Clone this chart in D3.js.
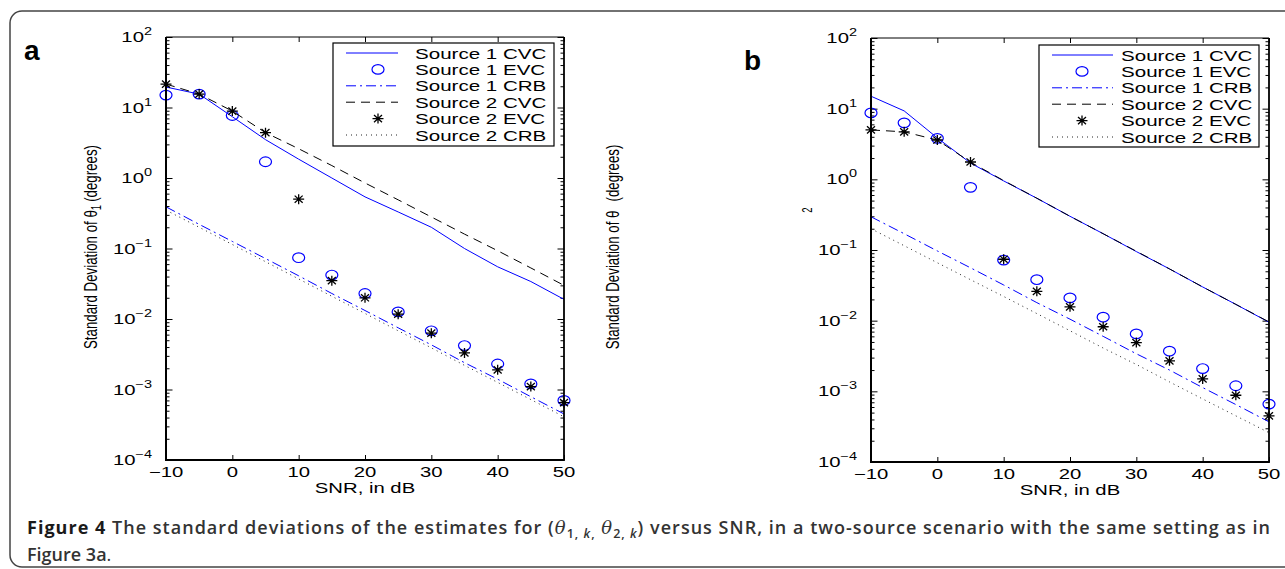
<!DOCTYPE html>
<html>
<head>
<meta charset="utf-8">
<script src="https://cdn.jsdelivr.net/npm/d3@7"></script>
<style>
  body { margin: 0; background: #fff; }
  svg { display: block; }
</style>
</head>
<body>
<svg id="fig" width="1285" height="569"></svg>
<script>
// SNR grid (dB)
const snr = [-10, -5, 0, 5, 10, 15, 20, 25, 30, 35, 40, 45, 50];

// panel a : std of theta_1
const a_s1_cvc = [19.5, 15.5, 7.4, 3.5, 1.85, 1.0, 0.54, 0.33, 0.2, 0.1, 0.055, 0.034, 0.019];
const a_s1_evc = [15, 15.5, 7.7, 1.7, 0.074, 0.042, 0.023, 0.0126, 0.0068, 0.0042, 0.0023, 0.0012, 0.0007];
const a_s1_crb = [0.39, 0.22, 0.126, 0.072, 0.041, 0.023, 0.0132, 0.0075, 0.0043, 0.0024, 0.0014, 0.00079, 0.00045];
const a_s2_cvc = [21.5, 15.5, 8.9, 4.4, 2.6, 1.5, 0.85, 0.49, 0.28, 0.16, 0.093, 0.053, 0.030];
const a_s2_evc = [21.5, 15.5, 8.9, 4.4, 0.5, 0.035, 0.020, 0.0117, 0.0063, 0.0033, 0.0019, 0.0011, 0.00065];
const a_s2_crb = [0.35, 0.2, 0.114, 0.065, 0.037, 0.021, 0.012, 0.0068, 0.0039, 0.0022, 0.00126, 0.00072, 0.00041];

// panel b : std of theta_2
const b_s1_cvc = [15, 9.3, 3.85, 1.7, 0.95, 0.54, 0.30, 0.17, 0.095, 0.054, 0.030, 0.017, 0.0095];
const b_s1_evc = [8.7, 6.3, 3.8, 0.77, 0.072, 0.038, 0.021, 0.0112, 0.0065, 0.0037, 0.0021, 0.0012, 0.00066];
const b_s1_crb = [0.295, 0.17, 0.097, 0.056, 0.032, 0.018, 0.0105, 0.006, 0.0034, 0.002, 0.00113, 0.00065, 0.00037];
const b_s2_cvc = [5.0, 4.7, 3.6, 1.75, 0.96, 0.54, 0.30, 0.17, 0.096, 0.054, 0.030, 0.017, 0.0096];
const b_s2_evc = [5.0, 4.7, 3.6, 1.76, 0.074, 0.026, 0.0157, 0.0082, 0.0049, 0.0027, 0.0015, 0.00088, 0.00045];
const b_s2_crb = [0.20, 0.115, 0.066, 0.038, 0.022, 0.0126, 0.0072, 0.0041, 0.0024, 0.00136, 0.00078, 0.00045, 0.00026];

const legendLabels = ["Source 1 CVC", "Source 1 EVC", "Source 1 CRB", "Source 2 CVC", "Source 2 EVC", "Source 2 CRB"];
const xTicks = [-10, 0, 10, 20, 30, 40, 50];
const yExponents = [-4, -3, -2, -1, 0, 1, 2];

const FONT = "'Liberation Sans', Arial, Helvetica, sans-serif";
const SX = 1.45; // the matlab export is stretched sideways

// how each series is drawn (same order as the legend)
const looks = [
  { type: "line", color: "#0000ff", dash: null },
  { type: "circle", color: "#0000ff" },
  { type: "line", color: "#0000ff", dash: "10,4,2,4" },
  { type: "line", color: "#000", dash: "9,6" },
  { type: "star", color: "#000" },
  { type: "line", color: "#222", dash: "1,4" }
];

const svg = d3.select("#fig");

// outer frame
svg.append("rect")
  .attr("x", 10).attr("y", 11).attr("width", 1300).attr("height", 556)
  .attr("rx", 12)
  .attr("fill", "none").attr("stroke", "#444").attr("stroke-width", 1.5);

function wideText(g, x, y, size, sx, anchor) {
  return g.append("text")
    .attr("transform", `translate(${x},${y}) scale(${sx},1)`)
    .attr("font-family", FONT)
    .attr("font-size", size)
    .attr("text-anchor", anchor)
    .attr("fill", "#000");
}

function drawStar(g, cx, cy) {
  g.append("path")
    .attr("d", `M${cx - 5.5},${cy}H${cx + 5.5}M${cx},${cy - 5}V${cy + 5}` +
      `M${cx - 4},${cy - 3.6}L${cx + 4},${cy + 3.6}M${cx - 4},${cy + 3.6}L${cx + 4},${cy - 3.6}`)
    .attr("stroke", "#000").attr("stroke-width", 1.3).attr("fill", "none");
}

function drawCircle(g, cx, cy) {
  g.append("ellipse")
    .attr("cx", cx).attr("cy", cy).attr("rx", 6).attr("ry", 4.8)
    .attr("fill", "none").attr("stroke", "#0000ff").attr("stroke-width", 1.2);
}

function drawPanel(p) {
  const g = svg.append("g");
  const x = d3.scaleLinear().domain([-10, 50]).range([p.left, p.right]);
  const y = d3.scaleLog().domain([1e-4, 1e2]).range([p.bottom, p.top]);

  // minor ticks (2..9 per decade)
  const minors = [];
  for (let e = -4; e < 2; e++) for (let m = 2; m <= 9; m++) minors.push(m * Math.pow(10, e));
  const majors = yExponents.map(e => Math.pow(10, e));

  const tickStyle = sel => {
    sel.select(".domain").remove();
    sel.selectAll("line").attr("stroke", "#000").attr("stroke-width", 1);
    sel.selectAll("text").remove();
  };

  g.append("g").attr("transform", `translate(${p.left},0)`)
    .call(d3.axisLeft(y).tickValues(minors).tickSize(-3.5)).call(tickStyle);
  g.append("g").attr("transform", `translate(${p.right},0)`)
    .call(d3.axisRight(y).tickValues(minors).tickSize(-3.5)).call(tickStyle);
  g.append("g").attr("transform", `translate(${p.left},0)`)
    .call(d3.axisLeft(y).tickValues(majors).tickSize(-6.5)).call(tickStyle);
  g.append("g").attr("transform", `translate(${p.right},0)`)
    .call(d3.axisRight(y).tickValues(majors).tickSize(-6.5)).call(tickStyle);
  g.append("g").attr("transform", `translate(0,${p.bottom})`)
    .call(d3.axisBottom(x).tickValues(xTicks).tickSize(-5)).call(tickStyle);
  g.append("g").attr("transform", `translate(0,${p.top})`)
    .call(d3.axisTop(x).tickValues(xTicks).tickSize(-5)).call(tickStyle);

  // y tick labels 10^k
  yExponents.forEach(e => {
    const t = wideText(g, p.left - 14, y(Math.pow(10, e)) + 5, 14, SX, "end");
    t.append("tspan").text("10");
    t.append("tspan").attr("dy", -7).attr("font-size", 10)
      .text(e < 0 ? "\u2212" + (-e) : String(e));
  });

  // x tick labels
  xTicks.forEach(v => {
    wideText(g, x(v), p.bottom + 17, 14, SX, "middle")
      .text(v < 0 ? "\u2212" + (-v) : String(v));
  });

  // x label
  wideText(g, (p.left + p.right) / 2, p.bottom + 33, 14, SX, "middle").text("SNR, in dB");

  // series
  const line = d3.line().x((d, i) => x(snr[i])).y(d => y(d));
  p.series.forEach((vals, k) => {
    const look = looks[k];
    if (look.type === "line") {
      g.append("path").datum(vals)
        .attr("d", line)
        .attr("fill", "none")
        .attr("stroke", look.color)
        .attr("stroke-width", 1)
        .attr("stroke-dasharray", look.dash);
    } else {
      vals.forEach((v, i) => {
        if (look.type === "circle") drawCircle(g, x(snr[i]), y(v));
        else drawStar(g, x(snr[i]), y(v));
      });
    }
  });

  // box
  g.append("line").attr("x1", p.left).attr("x2", p.right).attr("y1", p.top).attr("y2", p.top)
    .attr("stroke", "#000").attr("stroke-width", 1);
  g.append("line").attr("x1", p.left).attr("x2", p.right).attr("y1", p.bottom).attr("y2", p.bottom)
    .attr("stroke", "#000").attr("stroke-width", 2);
  g.append("line").attr("x1", p.left).attr("x2", p.left).attr("y1", p.top).attr("y2", p.bottom + 1)
    .attr("stroke", "#000").attr("stroke-width", 2);
  g.append("line").attr("x1", p.right).attr("x2", p.right).attr("y1", p.top).attr("y2", p.bottom + 1)
    .attr("stroke", "#000").attr("stroke-width", 1.8);

  // legend
  const L = p.legend;
  g.append("rect").attr("x", L.x).attr("y", L.y).attr("width", L.w).attr("height", L.h)
    .attr("fill", "#fff").attr("stroke", "#000").attr("stroke-width", 1.2);
  legendLabels.forEach((name, k) => {
    const cy = L.y + 10 + k * 16.4;
    const look = looks[k];
    if (look.type === "line") {
      g.append("line").attr("x1", L.x + 13).attr("x2", L.x + L.lineEnd).attr("y1", cy).attr("y2", cy)
        .attr("stroke", look.color).attr("stroke-width", 1).attr("stroke-dasharray", look.dash);
    } else if (look.type === "circle") {
      drawCircle(g, L.x + L.marker, cy);
    } else {
      drawStar(g, L.x + L.marker, cy);
    }
    wideText(g, L.x + 82, cy + 5.5, 15, 1.37, "start").text(name);
  });

  // panel letter
  g.append("text").attr("x", p.letterX).attr("y", p.letterY)
    .attr("font-family", FONT).attr("font-weight", "bold").attr("font-size", 28)
    .text(p.letter);

  return g;
}

const ga = drawPanel({
  left: 166, right: 564, top: 37, bottom: 460,
  series: [a_s1_cvc, a_s1_evc, a_s1_crb, a_s2_cvc, a_s2_evc, a_s2_crb],
  legend: { x: 333, y: 43, w: 221, h: 103, lineEnd: 65, marker: 45 },
  letter: "a", letterX: 24, letterY: 60
});
const gb = drawPanel({
  left: 871, right: 1269, top: 38, bottom: 462,
  series: [b_s1_cvc, b_s1_evc, b_s1_crb, b_s2_cvc, b_s2_evc, b_s2_crb],
  legend: { x: 1039, y: 45, w: 220, h: 102, lineEnd: 74, marker: 43 },
  letter: "b", letterX: 744, letterY: 70
});

// y labels (rotated, glyphs widened like the export)
const ya = ga.append("text")
  .attr("transform", `translate(97,247) scale(${SX},1) rotate(-90)`)
  .attr("font-family", FONT).attr("font-size", 13.3).attr("text-anchor", "middle");
ya.append("tspan").text("Standard Deviation of \u03b8");
ya.append("tspan").attr("font-size", 9.5).attr("dy", 3).text("1");
ya.append("tspan").attr("dy", -3).attr("dx", 3).text("(degrees)");

const yb = gb.append("text")
  .attr("transform", `translate(619,247) scale(${SX},1) rotate(-90)`)
  .attr("font-family", FONT).attr("font-size", 13.3).attr("text-anchor", "middle");
yb.append("tspan").text("Standard Deviation of \u03b8");
yb.append("tspan").attr("dx", 9).text("(degrees)");

gb.append("text")
  .attr("transform", `translate(812,210) scale(${SX},1) rotate(-90)`)
  .attr("font-family", FONT).attr("font-size", 9.5).attr("text-anchor", "middle")
  .text("2");

// caption
const CAP = "'Open Sans', 'Noto Sans', sans-serif";
const cap = svg.append("text")
  .attr("x", 27).attr("y", 534)
  .attr("font-family", CAP).attr("font-size", 18)
  .attr("textLength", 1243).attr("lengthAdjust", "spacing")
  .attr("fill", "#333").attr("font-weight", 600);
cap.append("tspan").attr("font-weight", 700).attr("fill", "#1a1a1a").text("Figure 4");
cap.append("tspan").text(" The standard deviations of the estimates for (");
cap.append("tspan").attr("font-style", "italic").attr("font-family", "'DejaVu Serif', serif").attr("font-weight", 400).text("\u03b8");
cap.append("tspan").attr("font-size", 12.5).attr("dy", 4).text("1, ");
cap.append("tspan").attr("font-size", 12.5).attr("font-style", "italic").text("k");
cap.append("tspan").attr("font-size", 12.5).text(",");
cap.append("tspan").attr("dy", -4).text(" ");
cap.append("tspan").attr("font-style", "italic").attr("font-family", "'DejaVu Serif', serif").attr("font-weight", 400).text("\u03b8");
cap.append("tspan").attr("font-size", 12.5).attr("dy", 4).text("2, ");
cap.append("tspan").attr("font-size", 12.5).attr("font-style", "italic").text("k");
cap.append("tspan").attr("dy", -4).text(") versus SNR, in a two-source scenario with the same setting as in");

const cap2 = svg.append("text")
  .attr("x", 27).attr("y", 561)
  .attr("font-family", CAP).attr("font-size", 18).attr("fill", "#333");
cap2.append("tspan").attr("font-weight", 600).text("Figure 3a");
cap2.append("tspan").attr("font-weight", 400).text(".");
</script>
</body>
</html>
